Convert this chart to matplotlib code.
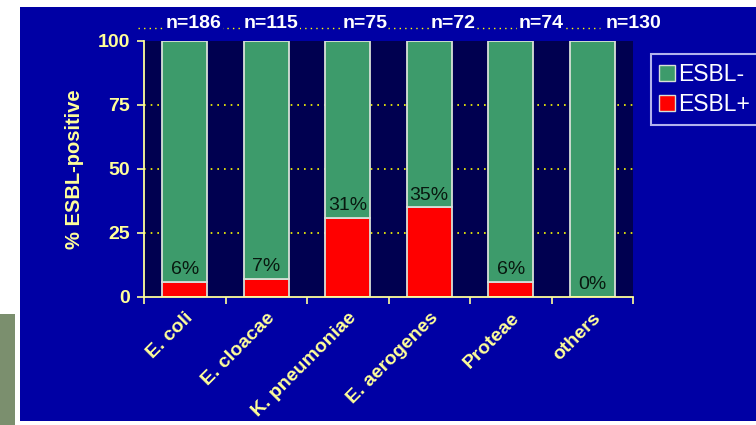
import matplotlib.pyplot as plt
from matplotlib.patches import Rectangle
from matplotlib.lines import Line2D
import numpy as np

plt.rcParams['font.family'] = ['Liberation Sans', 'DejaVu Sans']

species = ["E. coli", "E. cloacae", "K. pneumoniae", "E. aerogenes", "Proteae", "others"]
esbl_pos = [6, 7, 31, 35, 6, 0]
n_isolates = [186, 115, 75, 72, 74, 130]
# horizontal offsets of the n= labels from each bar centre
n_offsets = [0.11, 0.06, 0.21, 0.29, 0.37, 0.51]

SLIDE_BLUE = "#0000a4"
AX_BG = "#000050"
GREEN = "#3d9b6b"
RED = "#ff0000"
YELLOW = "#ffff99"
GRID_YELLOW = "#ffff00"

esbl_neg = [100 - v for v in esbl_pos]
x = np.arange(len(species))

fig = plt.figure(figsize=(7.56, 4.25), dpi=100)
fig.patch.set_facecolor("white")
fig.add_artist(Rectangle((0.0265, 0.0094), 0.9735, 0.9741, transform=fig.transFigure,
                         facecolor=SLIDE_BLUE, edgecolor="none", zorder=-5))
fig.add_artist(Rectangle((0.0, 0.0), 0.0198, 0.261, transform=fig.transFigure,
                         facecolor="#7b8f6e", edgecolor="none", zorder=-5))

ax = fig.add_axes([0.1905, 0.3012, 0.6468, 0.6024])
ax.set_zorder(2)
ax.set_facecolor(AX_BG)

ax.bar(x, esbl_pos, width=0.55, color=RED, edgecolor="#d8e0d8", linewidth=1.3, zorder=3)
ax.bar(x, esbl_neg, width=0.55, bottom=esbl_pos, color=GREEN, edgecolor="#d8e0d8",
       linewidth=1.3, zorder=3)

for xi, v in zip(x, esbl_pos):
    ax.text(xi, v + 1.5, f"{v}%", ha="center", va="bottom", fontsize=14,
            color="#08180f", zorder=4)

# dotted line carrying the sample sizes
ax.plot([-0.57, 5.1], [105, 105], linestyle=(0, (1, 3)), color=GRID_YELLOW, lw=1,
        clip_on=False, zorder=1)
for xi, n, off in zip(x, n_isolates, n_offsets):
    ax.text(xi + off, 107, f"n={n}", ha="center", va="center", fontsize=14,
            fontweight="bold", color="white", clip_on=False, zorder=2,
            bbox=dict(boxstyle="square,pad=0.05", facecolor=SLIDE_BLUE, edgecolor="none"))

ax.set_xlim(-0.5, 5.5)
ax.set_ylim(0, 100)
ax.set_yticks([0, 25, 50, 75, 100])
for y in [25, 50, 75]:
    ax.axhline(y, color=GRID_YELLOW, linestyle=(0, (1, 3)), lw=1.2, zorder=1)

ax.set_xticks(np.arange(-0.5, 6, 1))
ax.set_xticklabels([])
ax.set_xticks(x, minor=True)
ax.set_xticklabels(species, minor=True, rotation=45, ha="right", rotation_mode="anchor",
                   fontsize=14, fontweight="bold", color=YELLOW)
ax.tick_params(axis="x", which="minor", length=0, pad=9)
ax.tick_params(axis="x", which="major", length=5, width=1.2, color=YELLOW)
ax.tick_params(axis="y", length=5, width=1.2, color=YELLOW, labelcolor=YELLOW,
               labelsize=14, pad=5)
for lab in ax.get_yticklabels():
    lab.set_fontweight("bold")

for side in ["top", "right"]:
    ax.spines[side].set_visible(False)
for side in ["left", "bottom"]:
    ax.spines[side].set_color(YELLOW)
    ax.spines[side].set_linewidth(1.3)
    ax.spines[side].set_zorder(5)

ax.set_ylabel("% ESBL-positive", fontsize=14.5, fontweight="bold", color=YELLOW, labelpad=10)

handles = [
    Line2D([], [], marker="s", linestyle="none", markersize=11, markerfacecolor=GREEN,
           markeredgecolor="#d8e0d8", label="ESBL-"),
    Line2D([], [], marker="s", linestyle="none", markersize=11, markerfacecolor=RED,
           markeredgecolor="#d8e0d8", label="ESBL+"),
]
leg = fig.legend(handles=handles, loc="upper left", bbox_to_anchor=(0.861, 0.874),
                 fontsize=16.5, frameon=True, fancybox=False, handletextpad=0.2,
                 handlelength=0.6, borderpad=0.4, labelspacing=0.3, borderaxespad=0)
leg.set_zorder(6)
leg.get_frame().set_facecolor(SLIDE_BLUE)
leg.get_frame().set_edgecolor("#e0e0ff")
leg.get_frame().set_linewidth(1.5)
for t in leg.get_texts():
    t.set_color("white")

fig.savefig("out.png", dpi=100, facecolor=fig.get_facecolor())
